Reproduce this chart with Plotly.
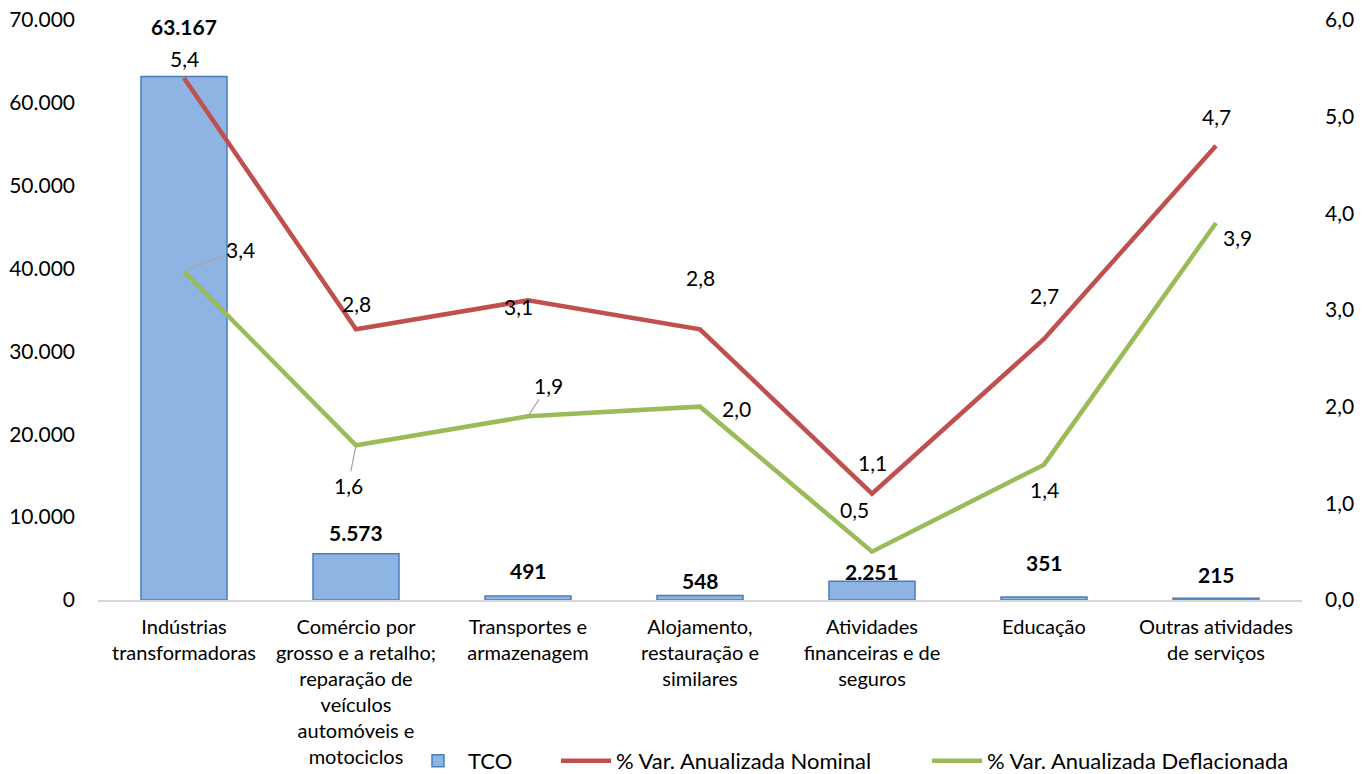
import plotly.graph_objects as go

categories = [
    "Indústrias<br>transformadoras",
    "Comércio por<br>grosso e a retalho;<br>reparação de<br>veículos<br>automóveis e<br>motociclos",
    "Transportes e<br>armazenagem",
    "Alojamento,<br>restauração e<br>similares",
    "Atividades<br>financeiras e de<br>seguros",
    "Educação",
    "Outras atividades<br>de serviços",
]
tco = [63167, 5573, 491, 548, 2251, 351, 215]
nominal = [5.4, 2.8, 3.1, 2.8, 1.1, 2.7, 4.7]
deflacionada = [3.4, 1.6, 1.9, 2.0, 0.5, 1.4, 3.9]

FONT = "Lato"
FS_TXT = 20
FS_NUM = 21
RED = "#C0504D"
GREEN = "#9BBB59"

# label offsets (pixels) for annotations
tco_shift = [50, 21, 25, 15, 10, 35, 24]
nom_shift = [(0, 20), (0, 26), (-10, -6), (0, 52), (0, 31), (0, 44), (0, 29)]
def_shift = [(56, 22), (-8, -40), (20, 31), (36, -2), (-18, 42), (0, -25), (21, -14)]
def_leader = [True, True, True, False, False, False, False]

fig = go.Figure()
fig.add_trace(go.Bar(
    x=categories, y=tco, name="TCO", width=0.5,
    marker=dict(color="#8EB4E3", line=dict(color="#4A7EBB", width=1.5)),
    yaxis="y", legend="legend",
))
fig.add_trace(go.Scatter(
    x=categories, y=nominal, name="% Var. Anualizada Nominal", mode="lines",
    line=dict(color=RED, width=4.5), yaxis="y2", legend="legend2",
))
fig.add_trace(go.Scatter(
    x=categories, y=deflacionada, name="% Var. Anualizada Deflacionada", mode="lines",
    line=dict(color=GREEN, width=4.5), yaxis="y2", legend="legend3",
))

numfont = dict(family=FONT, size=FS_NUM, color="black")
annotations = []
for c, v, s in zip(categories, tco, tco_shift):
    annotations.append(dict(
        x=c, y=v, xref="x", yref="y", text=f"<b>{v:,}</b>".replace(",", "."),
        showarrow=False, yshift=s, font=numfont,
    ))
for c, v, (dx, dy) in zip(categories, nominal, nom_shift):
    annotations.append(dict(
        x=c, y=v, xref="x", yref="y2", text=f"{v:.1f}".replace(".", ","),
        showarrow=False, xshift=dx, yshift=dy, font=numfont,
    ))
for c, v, (dx, dy), lead in zip(categories, deflacionada, def_shift, def_leader):
    txt = f"{v:.1f}".replace(".", ",")
    if lead:
        annotations.append(dict(
            x=c, y=v, xref="x", yref="y2", text=txt,
            showarrow=True, arrowhead=0, arrowwidth=1.2, arrowcolor="#A6A6A6",
            ax=dx, ay=-dy, standoff=2, font=numfont,
        ))
    else:
        annotations.append(dict(
            x=c, y=v, xref="x", yref="y2", text=txt,
            showarrow=False, xshift=dx, yshift=dy, font=numfont,
        ))

legfont = dict(family=FONT, size=22, color="black")
def leg(xpx):
    return dict(orientation="h", xref="container", yref="container",
                x=xpx / 1371, y=(774 - 761) / 774, xanchor="left", yanchor="middle",
                font=legfont, bgcolor="rgba(0,0,0,0)", itemwidth=50)

fig.update_layout(
    width=1371, height=774,
    margin=dict(l=98, r=69, t=20, b=174, autoexpand=False),
    paper_bgcolor="white", plot_bgcolor="white",
    separators=",.",
    font=dict(family=FONT, size=FS_TXT, color="black"),
    showlegend=True,
    legend=leg(408), legend2=leg(556), legend3=leg(927),
    xaxis=dict(type="category", showgrid=False, showline=True, linecolor="#D9D9D9",
               linewidth=1.5, ticks="", tickfont=dict(family=FONT, size=FS_TXT),
               ticklabelstandoff=8, range=[-0.5, 6.5], automargin=False,
               ticklabeloverflow="allow"),
    yaxis=dict(range=[0, 70000], dtick=10000, tickformat=",.0f", showgrid=False,
               zeroline=False, showline=False, ticks="", tickfont=numfont,
               ticklabelstandoff=22, automargin=False, ticklabeloverflow="allow"),
    yaxis2=dict(range=[0, 6], dtick=1, tickformat=".1f", overlaying="y", side="right",
                showgrid=False, zeroline=False, showline=False, ticks="",
                tickfont=numfont, ticklabelstandoff=22, automargin=False,
                ticklabeloverflow="allow"),
    annotations=annotations,
)

fig.write_html("out.html", config={"displayModeBar": False},
               post_script="document.body.style.margin='0';")
